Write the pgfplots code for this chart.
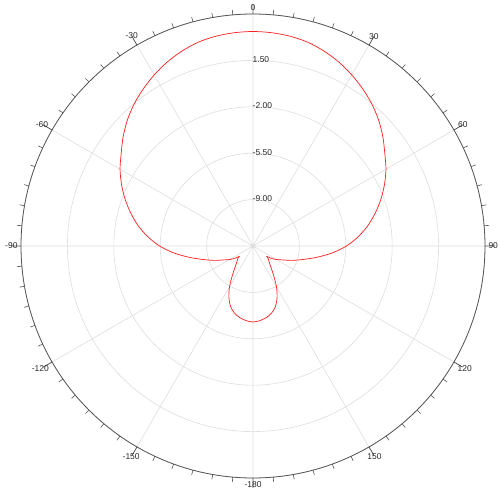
\documentclass[border=0pt]{standalone}
\usepackage{pgfplots}
\pgfplotsset{compat=1.18}
\usepackage{pgfplotstable}
\usepgfplotslibrary{polar}
\usepackage{fontspec}
\setmainfont{Liberation Sans}
\definecolor{gridgray}{RGB}{221,221,221}
\definecolor{axisgray}{RGB}{85,85,85}
\definecolor{labgray}{RGB}{40,40,40}
\definecolor{curvered}{RGB}{255,30,30}

% angle (deg, clockwise from top), level (dB): main lobe
\pgfplotstableread{
ang db
-127 -11.22
-124 -10.84
-120 -10.46
-115 -10.01
-110 -9.33
-105 -8.58
-100 -7.60
-95 -6.50
-90 -5.45
-85 -4.54
-80 -3.71
-75 -2.96
-70 -2.24
-65 -1.56
-60 -0.92
-55 -0.36
-50 0.29
-45 0.91
-40 1.46
-35 1.95
-30 2.40
-25 2.81
-20 3.15
-15 3.42
-10 3.57
-5 3.65
0 3.68
5 3.65
10 3.57
15 3.42
20 3.15
25 2.81
30 2.40
35 1.95
40 1.46
45 0.91
50 0.29
55 -0.36
60 -0.92
65 -1.56
70 -2.24
75 -2.96
80 -3.71
85 -4.54
90 -5.45
95 -6.50
100 -7.60
105 -8.58
110 -9.33
115 -10.01
120 -10.46
124 -10.84
127 -11.22
}\mainlobe

% back lobe
\pgfplotstableread{
ang db
127 -11.22
130 -10.99
135 -10.77
140 -10.39
145 -9.78
150 -8.96
155 -8.20
160 -7.60
165 -7.22
170 -6.99
175 -6.84
180 -6.77
185 -6.84
190 -6.99
195 -7.22
200 -7.60
205 -8.20
210 -8.96
215 -9.78
220 -10.39
225 -10.77
230 -10.99
233 -11.22
}\backlobe

\tikzset{rlab/.style={anchor=west, inner sep=0pt, xshift=-0.5bp, yshift=1bp, font=\fontsize{8.5}{10}\selectfont, text=labgray}}

\begin{document}
\begin{tikzpicture}
\begin{polaraxis}[
  width=464bp, height=464bp, scale only axis,
  xmin=0, xmax=360, ymin=0, ymax=17.5,
  xtick={0,30,...,330},
  xticklabels={90,60,30,0,-30,-60,-90,-120,-150,-180,150,120},
  minor x tick num=5,
  ytick={3.5,7,10.5,14,17.5},
  yticklabels={},
  ytick style={draw=none},
  grid=major,
  major grid style={gridgray, line width=0.6bp},
  separate axis lines,
  x axis line style={axisgray, line width=0.8bp},
  y axis line style={draw=none},
  major x tick style={axisgray, line width=0.8bp},
  minor x tick style={axisgray, line width=0.6bp},
  major tick length=10bp, minor tick length=5bp,
  xtick align=inside,
  ticklabel style={font=\fontsize{8.5}{10}\selectfont, text=labgray},
  /pgf/number format/assume math mode=true,
]
\addplot[curvered, line width=0.7bp, no markers, smooth,
  x filter/.expression={90-x},
  y filter/.expression={y+12.5}] table[x=ang, y=db] {\mainlobe};
\addplot[curvered, line width=0.7bp, no markers, smooth,
  x filter/.expression={90-x},
  y filter/.expression={y+12.5}] table[x=ang, y=db] {\backlobe};
\coordinate (O) at (axis cs:0,0);
\node[rlab] at (axis cs:90,3.5) {-9.00};
\node[rlab] at (axis cs:90,7) {-5.50};
\node[rlab] at (axis cs:90,10.5) {-2.00};
\node[rlab] at (axis cs:90,14) {1.50};
\end{polaraxis}
\pgfresetboundingbox
\path[use as bounding box, shift={(O)}] (-253bp,-249bp) rectangle (247bp,246bp);
\end{tikzpicture}
\end{document}
